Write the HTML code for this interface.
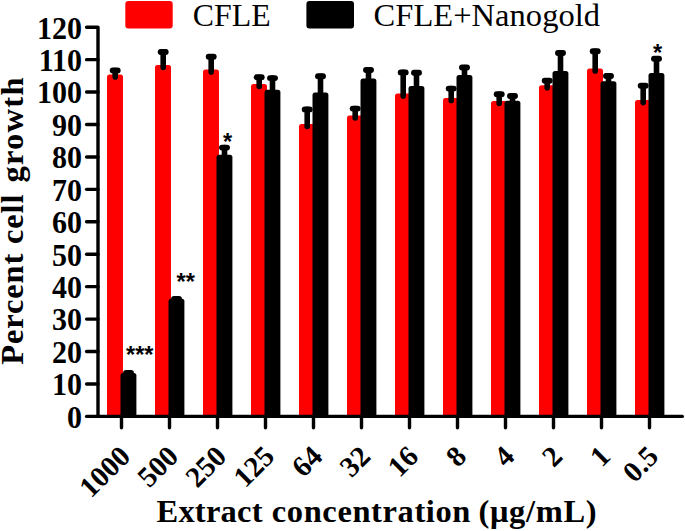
<!DOCTYPE html>
<html><head><meta charset="utf-8"><style>
html,body{margin:0;padding:0;background:#fff;}
svg{display:block;}
.yl{font-family:"Liberation Serif",serif;font-weight:bold;font-size:30px;fill:#000;}
.xl{font-family:"Liberation Serif",serif;font-weight:bold;font-size:29px;fill:#000;}
.ast{font-family:"Liberation Sans",sans-serif;font-weight:bold;font-size:23.5px;fill:#000;}
.lg{font-family:"Liberation Serif",serif;font-size:32.5px;fill:#000;}
.tt{font-family:"Liberation Serif",serif;font-weight:bold;font-size:32.5px;fill:#000;}
</style></head><body>
<svg width="685" height="531" viewBox="0 0 685 531">
<path d="M107.00,416.4 V76.90 Q107.00,74.40 109.50,74.40 H120.50 Q123.00,74.40 123.00,76.90 V416.4 Z" fill="#ff0000"/>
<line x1="115.20" y1="70.50" x2="115.20" y2="76.90" stroke="#000" stroke-width="5.6" stroke-linecap="round"/><line x1="112.70" y1="70.50" x2="117.70" y2="70.50" stroke="#000" stroke-width="5.9" stroke-linecap="round"/>
<path d="M120.50,416.4 V375.50 Q120.50,373.00 123.00,373.00 H133.90 Q136.40,373.00 136.40,375.50 V416.4 Z" fill="#000"/>
<line x1="128.50" y1="373.00" x2="128.50" y2="375.50" stroke="#000" stroke-width="5.6" stroke-linecap="round"/><line x1="126.00" y1="373.00" x2="131.00" y2="373.00" stroke="#000" stroke-width="5.9" stroke-linecap="round"/>
<path d="M155.00,416.4 V67.50 Q155.00,65.00 157.50,65.00 H168.50 Q171.00,65.00 171.00,67.50 V416.4 Z" fill="#ff0000"/>
<line x1="163.20" y1="52.00" x2="163.20" y2="67.50" stroke="#000" stroke-width="5.6" stroke-linecap="round"/><line x1="160.70" y1="52.00" x2="165.70" y2="52.00" stroke="#000" stroke-width="5.9" stroke-linecap="round"/>
<path d="M168.50,416.4 V301.30 Q168.50,298.80 171.00,298.80 H181.90 Q184.40,298.80 184.40,301.30 V416.4 Z" fill="#000"/>
<line x1="176.50" y1="299.00" x2="176.50" y2="301.30" stroke="#000" stroke-width="5.6" stroke-linecap="round"/><line x1="174.00" y1="299.00" x2="179.00" y2="299.00" stroke="#000" stroke-width="5.9" stroke-linecap="round"/>
<path d="M203.00,416.4 V71.90 Q203.00,69.40 205.50,69.40 H216.50 Q219.00,69.40 219.00,71.90 V416.4 Z" fill="#ff0000"/>
<line x1="211.20" y1="56.80" x2="211.20" y2="71.90" stroke="#000" stroke-width="5.6" stroke-linecap="round"/><line x1="208.70" y1="56.80" x2="213.70" y2="56.80" stroke="#000" stroke-width="5.9" stroke-linecap="round"/>
<path d="M216.50,416.4 V157.20 Q216.50,154.70 219.00,154.70 H229.90 Q232.40,154.70 232.40,157.20 V416.4 Z" fill="#000"/>
<line x1="224.50" y1="147.60" x2="224.50" y2="157.20" stroke="#000" stroke-width="5.6" stroke-linecap="round"/><line x1="222.00" y1="147.60" x2="227.00" y2="147.60" stroke="#000" stroke-width="5.9" stroke-linecap="round"/>
<path d="M251.00,416.4 V86.50 Q251.00,84.00 253.50,84.00 H264.50 Q267.00,84.00 267.00,86.50 V416.4 Z" fill="#ff0000"/>
<line x1="259.20" y1="77.30" x2="259.20" y2="86.50" stroke="#000" stroke-width="5.6" stroke-linecap="round"/><line x1="256.70" y1="77.30" x2="261.70" y2="77.30" stroke="#000" stroke-width="5.9" stroke-linecap="round"/>
<path d="M264.50,416.4 V92.20 Q264.50,89.70 267.00,89.70 H277.90 Q280.40,89.70 280.40,92.20 V416.4 Z" fill="#000"/>
<line x1="272.50" y1="78.10" x2="272.50" y2="92.20" stroke="#000" stroke-width="5.6" stroke-linecap="round"/><line x1="270.00" y1="78.10" x2="275.00" y2="78.10" stroke="#000" stroke-width="5.9" stroke-linecap="round"/>
<path d="M299.00,416.4 V126.50 Q299.00,124.00 301.50,124.00 H312.50 Q315.00,124.00 315.00,126.50 V416.4 Z" fill="#ff0000"/>
<line x1="307.20" y1="109.40" x2="307.20" y2="126.50" stroke="#000" stroke-width="5.6" stroke-linecap="round"/><line x1="304.70" y1="109.40" x2="309.70" y2="109.40" stroke="#000" stroke-width="5.9" stroke-linecap="round"/>
<path d="M312.50,416.4 V94.90 Q312.50,92.40 315.00,92.40 H325.90 Q328.40,92.40 328.40,94.90 V416.4 Z" fill="#000"/>
<line x1="320.50" y1="76.20" x2="320.50" y2="94.90" stroke="#000" stroke-width="5.6" stroke-linecap="round"/><line x1="318.00" y1="76.20" x2="323.00" y2="76.20" stroke="#000" stroke-width="5.9" stroke-linecap="round"/>
<path d="M347.00,416.4 V118.00 Q347.00,115.50 349.50,115.50 H360.50 Q363.00,115.50 363.00,118.00 V416.4 Z" fill="#ff0000"/>
<line x1="355.20" y1="108.60" x2="355.20" y2="118.00" stroke="#000" stroke-width="5.6" stroke-linecap="round"/><line x1="352.70" y1="108.60" x2="357.70" y2="108.60" stroke="#000" stroke-width="5.9" stroke-linecap="round"/>
<path d="M360.50,416.4 V80.90 Q360.50,78.40 363.00,78.40 H373.90 Q376.40,78.40 376.40,80.90 V416.4 Z" fill="#000"/>
<line x1="368.50" y1="70.00" x2="368.50" y2="80.90" stroke="#000" stroke-width="5.6" stroke-linecap="round"/><line x1="366.00" y1="70.00" x2="371.00" y2="70.00" stroke="#000" stroke-width="5.9" stroke-linecap="round"/>
<path d="M395.00,416.4 V95.90 Q395.00,93.40 397.50,93.40 H408.50 Q411.00,93.40 411.00,95.90 V416.4 Z" fill="#ff0000"/>
<line x1="403.20" y1="72.40" x2="403.20" y2="95.90" stroke="#000" stroke-width="5.6" stroke-linecap="round"/><line x1="400.70" y1="72.40" x2="405.70" y2="72.40" stroke="#000" stroke-width="5.9" stroke-linecap="round"/>
<path d="M408.50,416.4 V88.40 Q408.50,85.90 411.00,85.90 H421.90 Q424.40,85.90 424.40,88.40 V416.4 Z" fill="#000"/>
<line x1="416.50" y1="72.80" x2="416.50" y2="88.40" stroke="#000" stroke-width="5.6" stroke-linecap="round"/><line x1="414.00" y1="72.80" x2="419.00" y2="72.80" stroke="#000" stroke-width="5.9" stroke-linecap="round"/>
<path d="M443.00,416.4 V100.40 Q443.00,97.90 445.50,97.90 H456.50 Q459.00,97.90 459.00,100.40 V416.4 Z" fill="#ff0000"/>
<line x1="451.20" y1="88.60" x2="451.20" y2="100.40" stroke="#000" stroke-width="5.6" stroke-linecap="round"/><line x1="448.70" y1="88.60" x2="453.70" y2="88.60" stroke="#000" stroke-width="5.9" stroke-linecap="round"/>
<path d="M456.50,416.4 V77.40 Q456.50,74.90 459.00,74.90 H469.90 Q472.40,74.90 472.40,77.40 V416.4 Z" fill="#000"/>
<line x1="464.50" y1="67.50" x2="464.50" y2="77.40" stroke="#000" stroke-width="5.6" stroke-linecap="round"/><line x1="462.00" y1="67.50" x2="467.00" y2="67.50" stroke="#000" stroke-width="5.9" stroke-linecap="round"/>
<path d="M491.00,416.4 V103.50 Q491.00,101.00 493.50,101.00 H504.50 Q507.00,101.00 507.00,103.50 V416.4 Z" fill="#ff0000"/>
<line x1="499.20" y1="94.30" x2="499.20" y2="103.50" stroke="#000" stroke-width="5.6" stroke-linecap="round"/><line x1="496.70" y1="94.30" x2="501.70" y2="94.30" stroke="#000" stroke-width="5.9" stroke-linecap="round"/>
<path d="M504.50,416.4 V103.20 Q504.50,100.70 507.00,100.70 H517.90 Q520.40,100.70 520.40,103.20 V416.4 Z" fill="#000"/>
<line x1="512.50" y1="96.00" x2="512.50" y2="103.20" stroke="#000" stroke-width="5.6" stroke-linecap="round"/><line x1="510.00" y1="96.00" x2="515.00" y2="96.00" stroke="#000" stroke-width="5.9" stroke-linecap="round"/>
<path d="M539.00,416.4 V87.70 Q539.00,85.20 541.50,85.20 H552.50 Q555.00,85.20 555.00,87.70 V416.4 Z" fill="#ff0000"/>
<line x1="547.20" y1="80.80" x2="547.20" y2="87.70" stroke="#000" stroke-width="5.6" stroke-linecap="round"/><line x1="544.70" y1="80.80" x2="549.70" y2="80.80" stroke="#000" stroke-width="5.9" stroke-linecap="round"/>
<path d="M552.50,416.4 V73.40 Q552.50,70.90 555.00,70.90 H565.90 Q568.40,70.90 568.40,73.40 V416.4 Z" fill="#000"/>
<line x1="560.50" y1="53.00" x2="560.50" y2="73.40" stroke="#000" stroke-width="5.6" stroke-linecap="round"/><line x1="558.00" y1="53.00" x2="563.00" y2="53.00" stroke="#000" stroke-width="5.9" stroke-linecap="round"/>
<path d="M587.00,416.4 V70.90 Q587.00,68.40 589.50,68.40 H600.50 Q603.00,68.40 603.00,70.90 V416.4 Z" fill="#ff0000"/>
<line x1="595.20" y1="51.30" x2="595.20" y2="70.90" stroke="#000" stroke-width="5.6" stroke-linecap="round"/><line x1="592.70" y1="51.30" x2="597.70" y2="51.30" stroke="#000" stroke-width="5.9" stroke-linecap="round"/>
<path d="M600.50,416.4 V83.70 Q600.50,81.20 603.00,81.20 H613.90 Q616.40,81.20 616.40,83.70 V416.4 Z" fill="#000"/>
<line x1="608.50" y1="76.00" x2="608.50" y2="83.70" stroke="#000" stroke-width="5.6" stroke-linecap="round"/><line x1="606.00" y1="76.00" x2="611.00" y2="76.00" stroke="#000" stroke-width="5.9" stroke-linecap="round"/>
<path d="M635.00,416.4 V102.60 Q635.00,100.10 637.50,100.10 H648.50 Q651.00,100.10 651.00,102.60 V416.4 Z" fill="#ff0000"/>
<line x1="643.20" y1="85.80" x2="643.20" y2="102.60" stroke="#000" stroke-width="5.6" stroke-linecap="round"/><line x1="640.70" y1="85.80" x2="645.70" y2="85.80" stroke="#000" stroke-width="5.9" stroke-linecap="round"/>
<path d="M648.50,416.4 V75.50 Q648.50,73.00 651.00,73.00 H661.90 Q664.40,73.00 664.40,75.50 V416.4 Z" fill="#000"/>
<line x1="656.50" y1="58.80" x2="656.50" y2="75.50" stroke="#000" stroke-width="5.6" stroke-linecap="round"/><line x1="654.00" y1="58.80" x2="659.00" y2="58.80" stroke="#000" stroke-width="5.9" stroke-linecap="round"/>
<path d="M86.6,27.2 H98 V416.4" fill="none" stroke="#000" stroke-width="3.4" stroke-linejoin="round" stroke-linecap="round"/>
<line x1="86.6" y1="416.4" x2="682.3" y2="416.4" stroke="#000" stroke-width="3.4" stroke-linecap="round"/>
<line x1="86.6" y1="383.97" x2="98" y2="383.97" stroke="#000" stroke-width="3.4" stroke-linecap="round"/>
<line x1="86.6" y1="351.53" x2="98" y2="351.53" stroke="#000" stroke-width="3.4" stroke-linecap="round"/>
<line x1="86.6" y1="319.10" x2="98" y2="319.10" stroke="#000" stroke-width="3.4" stroke-linecap="round"/>
<line x1="86.6" y1="286.67" x2="98" y2="286.67" stroke="#000" stroke-width="3.4" stroke-linecap="round"/>
<line x1="86.6" y1="254.23" x2="98" y2="254.23" stroke="#000" stroke-width="3.4" stroke-linecap="round"/>
<line x1="86.6" y1="221.80" x2="98" y2="221.80" stroke="#000" stroke-width="3.4" stroke-linecap="round"/>
<line x1="86.6" y1="189.37" x2="98" y2="189.37" stroke="#000" stroke-width="3.4" stroke-linecap="round"/>
<line x1="86.6" y1="156.94" x2="98" y2="156.94" stroke="#000" stroke-width="3.4" stroke-linecap="round"/>
<line x1="86.6" y1="124.50" x2="98" y2="124.50" stroke="#000" stroke-width="3.4" stroke-linecap="round"/>
<line x1="86.6" y1="92.07" x2="98" y2="92.07" stroke="#000" stroke-width="3.4" stroke-linecap="round"/>
<line x1="86.6" y1="59.64" x2="98" y2="59.64" stroke="#000" stroke-width="3.4" stroke-linecap="round"/>
<line x1="121.50" y1="416.4" x2="121.50" y2="427.7" stroke="#000" stroke-width="3.4" stroke-linecap="round"/>
<line x1="169.50" y1="416.4" x2="169.50" y2="427.7" stroke="#000" stroke-width="3.4" stroke-linecap="round"/>
<line x1="217.50" y1="416.4" x2="217.50" y2="427.7" stroke="#000" stroke-width="3.4" stroke-linecap="round"/>
<line x1="265.50" y1="416.4" x2="265.50" y2="427.7" stroke="#000" stroke-width="3.4" stroke-linecap="round"/>
<line x1="313.50" y1="416.4" x2="313.50" y2="427.7" stroke="#000" stroke-width="3.4" stroke-linecap="round"/>
<line x1="361.50" y1="416.4" x2="361.50" y2="427.7" stroke="#000" stroke-width="3.4" stroke-linecap="round"/>
<line x1="409.50" y1="416.4" x2="409.50" y2="427.7" stroke="#000" stroke-width="3.4" stroke-linecap="round"/>
<line x1="457.50" y1="416.4" x2="457.50" y2="427.7" stroke="#000" stroke-width="3.4" stroke-linecap="round"/>
<line x1="505.50" y1="416.4" x2="505.50" y2="427.7" stroke="#000" stroke-width="3.4" stroke-linecap="round"/>
<line x1="553.50" y1="416.4" x2="553.50" y2="427.7" stroke="#000" stroke-width="3.4" stroke-linecap="round"/>
<line x1="601.50" y1="416.4" x2="601.50" y2="427.7" stroke="#000" stroke-width="3.4" stroke-linecap="round"/>
<line x1="649.50" y1="416.4" x2="649.50" y2="427.7" stroke="#000" stroke-width="3.4" stroke-linecap="round"/>
<text transform="translate(82,416.40) scale(1,1.06)" x="0" y="10.7" text-anchor="end" class="yl">0</text>
<text transform="translate(82,383.97) scale(1,1.06)" x="0" y="10.7" text-anchor="end" class="yl">10</text>
<text transform="translate(82,351.53) scale(1,1.06)" x="0" y="10.7" text-anchor="end" class="yl">20</text>
<text transform="translate(82,319.10) scale(1,1.06)" x="0" y="10.7" text-anchor="end" class="yl">30</text>
<text transform="translate(82,286.67) scale(1,1.06)" x="0" y="10.7" text-anchor="end" class="yl">40</text>
<text transform="translate(82,254.23) scale(1,1.06)" x="0" y="10.7" text-anchor="end" class="yl">50</text>
<text transform="translate(82,221.80) scale(1,1.06)" x="0" y="10.7" text-anchor="end" class="yl">60</text>
<text transform="translate(82,189.37) scale(1,1.06)" x="0" y="10.7" text-anchor="end" class="yl">70</text>
<text transform="translate(82,156.94) scale(1,1.06)" x="0" y="10.7" text-anchor="end" class="yl">80</text>
<text transform="translate(82,124.50) scale(1,1.06)" x="0" y="10.7" text-anchor="end" class="yl">90</text>
<text transform="translate(82,92.07) scale(1,1.06)" x="0" y="10.7" text-anchor="end" class="yl">100</text>
<text transform="translate(82,59.64) scale(1,1.06)" x="0" y="10.7" text-anchor="end" class="yl">110</text>
<text transform="translate(82,27.20) scale(1,1.06)" x="0" y="10.7" text-anchor="end" class="yl">120</text>
<text transform="translate(132.10,458.00) rotate(-45)" text-anchor="end" class="xl">1000</text>
<text transform="translate(180.10,458.00) rotate(-45)" text-anchor="end" class="xl">500</text>
<text transform="translate(228.10,458.00) rotate(-45)" text-anchor="end" class="xl">250</text>
<text transform="translate(276.10,458.00) rotate(-45)" text-anchor="end" class="xl">125</text>
<text transform="translate(324.10,458.00) rotate(-45)" text-anchor="end" class="xl">64</text>
<text transform="translate(372.10,458.00) rotate(-45)" text-anchor="end" class="xl">32</text>
<text transform="translate(420.10,458.00) rotate(-45)" text-anchor="end" class="xl">16</text>
<text transform="translate(468.10,458.00) rotate(-45)" text-anchor="end" class="xl">8</text>
<text transform="translate(516.10,458.00) rotate(-45)" text-anchor="end" class="xl">4</text>
<text transform="translate(564.10,458.00) rotate(-45)" text-anchor="end" class="xl">2</text>
<text transform="translate(612.10,458.00) rotate(-45)" text-anchor="end" class="xl">1</text>
<text transform="translate(660.10,458.00) rotate(-45)" text-anchor="end" class="xl">0.5</text>
<text x="139.8" y="362.8" text-anchor="middle" class="ast">***</text>
<text x="185.7" y="290" text-anchor="middle" class="ast">**</text>
<text x="227.5" y="149.5" text-anchor="middle" class="ast">*</text>
<text x="657.7" y="60.5" text-anchor="middle" class="ast">*</text>
<rect x="125.3" y="1" width="47.4" height="27.4" rx="3" fill="#ff0000"/>
<rect x="306.4" y="1" width="47.6" height="27.4" rx="3" fill="#000"/>
<text x="192.8" y="25.5" class="lg" textLength="77.8" style="font-size:32.5px" lengthAdjust="spacingAndGlyphs">CFLE</text>
<text x="373.6" y="25.6" class="lg" textLength="226.4" lengthAdjust="spacing">CFLE+Nanogold</text>
<text x="156.50" y="522.4" class="tt" textLength="106.00" lengthAdjust="spacing">Extract</text>
<text x="271.80" y="522.4" class="tt" textLength="198.60" lengthAdjust="spacing">concentration</text>
<text x="478.50" y="522.4" class="tt" textLength="118.10" lengthAdjust="spacing">(μg/mL)</text>
<text transform="translate(23.2,364.70) rotate(-90)" class="tt" textLength="111.00" lengthAdjust="spacing">Percent</text>
<text transform="translate(23.2,244.10) rotate(-90)" class="tt" textLength="49.60" lengthAdjust="spacing">cell</text>
<text transform="translate(23.2,182.50) rotate(-90)" class="tt" textLength="105.00" lengthAdjust="spacing">growth</text>
</svg>
</body></html>
